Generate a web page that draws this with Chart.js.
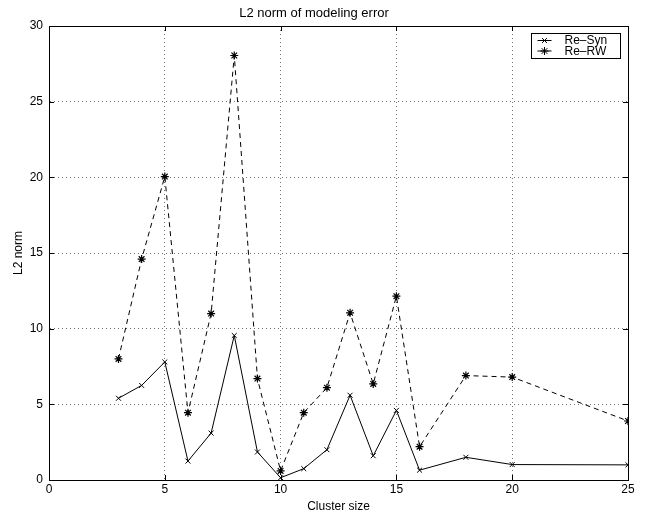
<!DOCTYPE html>
<html>
<head>
<meta charset="utf-8">
<title>L2 norm of modeling error</title>
<script src="https://cdn.jsdelivr.net/npm/chart.js@4.4.1/dist/chart.umd.min.js"></script>
<style>
  html, body { margin: 0; padding: 0; background: #ffffff; }
  #plot { display: block; }
</style>
</head>
<body>
<canvas id="plot" width="649" height="515"></canvas>
<script>
// values
const clusterSizes = [3, 4, 5, 6, 7, 8, 9, 10, 11, 12, 13, 14, 15, 16, 18, 20, 25];
const reSyn = [5.4, 6.25, 7.8, 1.25, 3.1, 9.55, 1.85, 0.15, 0.75, 2.0, 5.6, 1.6, 4.6, 0.65, 1.5, 1.02, 1.0];
const reRW = [8.0, 14.6, 20.05, 4.45, 11.0, 28.05, 6.7, 0.6, 4.45, 6.1, 11.05, 6.35, 12.15, 2.2, 6.9, 6.8, 3.9];
const seriesNames = ["Re\u2013Syn", "Re\u2013RW"];
const xTicks = [0, 5, 10, 15, 20, 25];
const yTicks = [0, 5, 10, 15, 20, 25, 30];

const FONT = "'Liberation Sans', Arial, Helvetica, sans-serif";

function toPoints(xs, ys) {
  return xs.map((x, i) => ({ x: x, y: ys[i] }));
}

// matlab style box with inward ticks
const boxPlugin = {
  id: "box",
  afterDraw(chart) {
    const ctx = chart.ctx;
    const a = chart.chartArea;
    const xs = chart.scales.x;
    const ys = chart.scales.y;
    ctx.save();
    ctx.strokeStyle = "#000000";
    ctx.lineWidth = 1;
    ctx.strokeRect(Math.round(a.left) + 0.5, Math.round(a.top) + 0.5,
      Math.round(a.right - a.left), Math.round(a.bottom - a.top));
    ctx.beginPath();
    xTicks.forEach((t) => {
      const px = Math.round(xs.getPixelForValue(t)) + 0.5;
      ctx.moveTo(px, a.bottom);
      ctx.lineTo(px, a.bottom - 5);
      ctx.moveTo(px, a.top);
      ctx.lineTo(px, a.top + 5);
    });
    yTicks.forEach((t) => {
      const py = Math.round(ys.getPixelForValue(t)) + 0.5;
      ctx.moveTo(a.left, py);
      ctx.lineTo(a.left + 5, py);
      ctx.moveTo(a.right, py);
      ctx.lineTo(a.right - 5, py);
    });
    ctx.stroke();
    ctx.restore();
  },
};

// legend box inside the axes, top right
const legendBoxPlugin = {
  id: "legendBox",
  afterDraw(chart) {
    const ctx = chart.ctx;
    const a = chart.chartArea;
    const bw = 89;
    const bh = 25;
    const bx = Math.round(a.right - 8 - bw) + 0.5;
    const by = Math.round(a.top + 7) + 0.5;
    ctx.save();
    ctx.fillStyle = "#ffffff";
    ctx.fillRect(bx, by, bw, bh);
    ctx.strokeStyle = "#000000";
    ctx.lineWidth = 1;
    ctx.strokeRect(bx, by, bw, bh);
    chart.data.datasets.forEach((ds, i) => {
      const cy = by + 7 + i * 10.5;
      ctx.strokeStyle = "#000000";
      ctx.lineWidth = 1;
      ctx.setLineDash([]);
      ctx.beginPath();
      ctx.moveTo(bx + 6, cy);
      ctx.lineTo(bx + 20, cy);
      ctx.stroke();
      Chart.helpers.drawPoint(ctx, {
        pointStyle: ds.pointStyle,
        radius: ds.pointRadius,
        borderWidth: 1,
        rotation: 0,
      }, bx + 13, cy);
      ctx.fillStyle = "#000000";
      ctx.font = "12px " + FONT;
      ctx.textBaseline = "middle";
      ctx.textAlign = "left";
      ctx.fillText(ds.label, bx + 33, cy + 0.5);
    });
    ctx.restore();
  },
};

const ctx = document.getElementById("plot");

new Chart(ctx, {
  type: "line",
  data: {
    datasets: [
      {
        label: seriesNames[0],
        data: toPoints(clusterSizes, reSyn),
        borderColor: "#000000",
        backgroundColor: "#000000",
        borderWidth: 1,
        pointStyle: "crossRot",
        pointRadius: 3.5,
        pointBorderWidth: 1,
        pointBorderColor: "#000000",
        tension: 0,
      },
      {
        label: seriesNames[1],
        data: toPoints(clusterSizes, reRW),
        borderColor: "#000000",
        backgroundColor: "#000000",
        borderWidth: 1,
        borderDash: [5, 4],
        pointStyle: "star",
        pointRadius: 4,
        pointBorderWidth: 1.2,
        pointBorderColor: "#000000",
        tension: 0,
      },
    ],
  },
  options: {
    responsive: false,
    animation: false,
    devicePixelRatio: 1,
    layout: {
      padding: { left: 0, right: 21, top: 0, bottom: 0 },
    },
    plugins: {
      legend: { display: false },
      tooltip: { enabled: false },
      title: {
        display: true,
        text: "L2 norm of modeling error",
        color: "#000000",
        font: { family: FONT, size: 13, weight: "normal", lineHeight: 1.2 },
        padding: { top: 5.7, bottom: 4.7 },
      },
    },
    scales: {
      x: {
        type: "linear",
        min: 0,
        max: 25,
        afterFit: (scale) => { scale.height = 35; },
        afterBuildTicks: (scale) => { scale.ticks = xTicks.map((v) => ({ value: v })); },
        ticks: {
          color: "#000000",
          font: { family: FONT, size: 12 },
          padding: 2,
          maxRotation: 0,
        },
        grid: {
          color: "rgba(0,0,0,0.55)",
          lineWidth: 1,
          drawTicks: false,
        },
        border: { display: true, color: "#000000", width: 1, dash: [1, 3] },
        title: {
          display: true,
          text: "Cluster size",
          color: "#000000",
          font: { family: FONT, size: 12, lineHeight: 1.2 },
          padding: { top: 0, bottom: 1 },
        },
      },
      y: {
        type: "linear",
        min: 0,
        max: 30,
        afterFit: (scale) => { scale.width = 49; },
        afterBuildTicks: (scale) => { scale.ticks = yTicks.map((v) => ({ value: v })); },
        ticks: {
          color: "#000000",
          font: { family: FONT, size: 12 },
          padding: 6,
        },
        grid: {
          color: "rgba(0,0,0,0.55)",
          lineWidth: 1,
          drawTicks: false,
        },
        border: { display: true, color: "#000000", width: 1, dash: [1, 3] },
        title: {
          display: true,
          text: "L2 norm",
          color: "#000000",
          font: { family: FONT, size: 12, lineHeight: 1.2 },
          padding: { top: 11, bottom: 0 },
        },
      },
    },
  },
  plugins: [boxPlugin, legendBoxPlugin],
});
</script>
</body>
</html>
